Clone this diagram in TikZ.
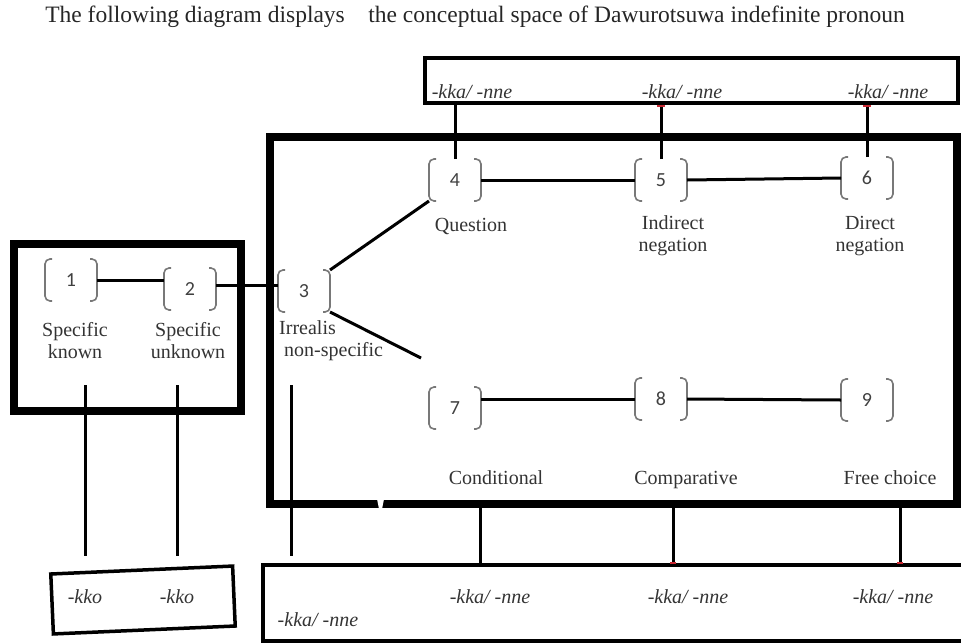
\documentclass[tikz,border=0pt]{standalone}
\usepackage{fontspec}
\setmainfont{Liberation Serif}
\newfontfamily\numfont{Carlito}
\usetikzlibrary{calc}
\definecolor{bracketgray}{RGB}{120,120,120}
\definecolor{tickred}{RGB}{200,40,50}

\begin{document}
\begin{tikzpicture}[x=1pt,y=-1pt]

\tikzstyle{frame} = [draw=black, line width=8pt, inner sep=0, outer sep=0]
\tikzstyle{thinframe} = [draw=black, line width=3.5pt, inner sep=0, outer sep=0]
\tikzstyle{point} = [inner sep=0, outer sep=0, minimum width=52pt,
    minimum height=42pt, font=\numfont\fontsize{20}{20}\selectfont,
    text=black!75]
\tikzstyle{brk} = [draw=bracketgray, line width=1.6pt, rounded corners=5pt]
\tikzstyle{label} = [font=\fontsize{20}{22}\selectfont, text=black!80,
    align=center, inner sep=0]
\tikzstyle{suffix} = [font=\itshape\fontsize{20}{20}\selectfont,
    text=black!80, inner sep=0]
\tikzstyle{link} = [draw=black, line width=3pt]

\useasboundingbox (0,0) rectangle (961,643);

% =========================
% title
% =========================
\node[font=\fontsize{23.5}{24}\selectfont, text=black!85] (title) at (475,17)
    {The following diagram displays\quad the conceptual space of Dawurotsuwa indefinite pronoun};

% =========================
% boxes
% =========================
\node[thinframe, minimum width=533pt, minimum height=45pt, anchor=north west]
    (topbox) at (425,58) {};
\node[frame, minimum width=687pt, minimum height=367pt, anchor=north west]
    (bigbox) at (270,137) {};
\node[frame, minimum width=227pt, minimum height=167pt, anchor=north west]
    (leftbox) at (14,244) {};
\node[thinframe, minimum width=182pt, minimum height=60pt, rotate=2.5]
    (kkobox) at (143,600) {};
\node[thinframe, minimum width=720pt, minimum height=76pt, anchor=north west]
    (botrow) at (263,565) {};

% notch in the bottom edge of the big box
\fill[white] (377,499) -- (384,499) -- (382,509) -- (379,509) -- cycle;

% =========================
% points of the space
% =========================
\node[point] (n1) at (71,280) {1};
\node[point] (n2) at (190,289) {2};
\node[point] (n3) at (304,291) {3};
\node[point] (n4) at (455,180) {4};
\node[point] (n5) at (661,180) {5};
\node[point] (n6) at (867,178) {6};
\node[point] (n7) at (455,408) {7};
\node[point] (n8) at (661,399) {8};
\node[point] (n9) at (867,400) {9};

\foreach \n in {1,...,9}{
  \draw[brk] ([xshift=7pt]n\n.north west) -- (n\n.north west)
    -- (n\n.south west) -- ([xshift=7pt]n\n.south west);
  \draw[brk] ([xshift=-7pt]n\n.north east) -- (n\n.north east)
    -- (n\n.south east) -- ([xshift=-7pt]n\n.south east);
}

% =========================
% labels
% =========================
\node[label] (lab1) at (75,341) {Specific\\known};
\node[label] (lab2) at (188,341) {Specific\\unknown};
\node[label, align=left, anchor=west] (lab3) at (279,341) {Irrealis\\\ non-specific};
\node[label, anchor=base] (lab4) at (471,231) {Question};
\node[label] (lab5) at (673,236) {Indirect\\negation};
\node[label] (lab6) at (870,236) {Direct\\negation};
\node[label, anchor=base] (lab7) at (496,484) {Conditional};
\node[label, anchor=base] (lab8) at (686,484) {Comparative};
\node[label, anchor=base] (lab9) at (890,484) {Free choice};

% =========================
% suffixes
% =========================
\node[suffix] (t4) at (472,92) {-kka/ -nne};
\node[suffix] (t5) at (682,92) {-kka/ -nne};
\node[suffix] (t6) at (888,92) {-kka/ -nne};

\node[suffix] (kko1) at (85,597) {-kko};
\node[suffix] (kko2) at (177,597) {-kko};

\node[suffix] (b3) at (318,620) {-kka/ -nne};
\node[suffix] (b7) at (490,597) {-kka/ -nne};
\node[suffix] (b8) at (688,597) {-kka/ -nne};
\node[suffix] (b9) at (893,597) {-kka/ -nne};

% =========================
% connectors inside the space
% =========================
\coordinate (end37) at (421,358);

\draw[link] (n1.east) -- (n1.east -| n2.west);
\draw[link] ([yshift=4pt]n2.east) -- ([yshift=4pt]n2.east -| n3.west);
\draw[link] (n3.north east) -- (n4.south west);
\draw[link] (n3.south east) -- (end37);
\draw[link] (n4.east) -- (n5.west);
\draw[link] (n5.east) -- (n6.west);
\draw[link] (n8.west -| n7.east) -- (n8.west);
\draw[link] (n8.east) -- (n9.west);

% =========================
% connectors to the suffixes
% =========================
\draw[link] (n4.north) -- (n4.north |- topbox.south);
\draw[link] (n5.north) -- (n5.north |- topbox.south);
\draw[link] (n6.north) -- (n6.north |- topbox.south);

\draw[link] (kko1.north |- 0,385) -- (kko1.north |- 0,556);
\draw[link] (kko2.north |- 0,385) -- (kko2.north |- 0,556);
\draw[link] (lab3.west |- 0,385) ++(12,0) -- ++(0,171);

\draw[link] (b7.north |- bigbox.south) ++(-10,0) -- ++(0,61);
\draw[link] (b8.north |- bigbox.south) ++(-15,0) -- ++(0,61);
\draw[link] (b9.north |- bigbox.south) ++(7,0) -- ++(0,61);

% red ticks at the joints
\foreach \x in {661,867}
  \draw[tickred, line width=2pt] (\x-4,106) -- (\x+4,106);
\foreach \x in {673,900}
  \draw[tickred, line width=2pt] (\x-3,563) -- (\x+3,563);

\end{tikzpicture}
\end{document}
